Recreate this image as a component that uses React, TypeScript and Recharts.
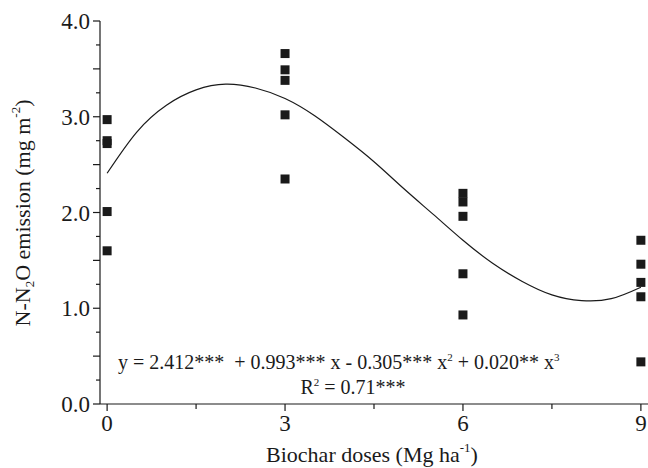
import { ComposedChart, Line, Scatter, XAxis, YAxis } from "recharts";

const doseTicks = [0, 1.5, 3, 4.5, 6, 7.5, 9];
const emissionTicks = [0, 0.25, 0.5, 0.75, 1, 1.25, 1.5, 1.75, 2, 2.25, 2.5, 2.75, 3, 3.25, 3.5, 3.75, 4];

// observed replicates (dose, emission)
const observed = [
	{ x: 0, y: 2.97 },
	{ x: 0, y: 2.75 },
	{ x: 0, y: 2.72 },
	{ x: 0, y: 2.01 },
	{ x: 0, y: 1.6 },
	{ x: 3, y: 3.66 },
	{ x: 3, y: 3.49 },
	{ x: 3, y: 3.38 },
	{ x: 3, y: 3.02 },
	{ x: 3, y: 2.35 },
	{ x: 6, y: 2.2 },
	{ x: 6, y: 2.11 },
	{ x: 6, y: 1.96 },
	{ x: 6, y: 1.36 },
	{ x: 6, y: 0.93 },
	{ x: 9, y: 1.71 },
	{ x: 9, y: 1.46 },
	{ x: 9, y: 1.27 },
	{ x: 9, y: 1.12 },
	{ x: 9, y: 0.44 },
];

// fitted curve
const curveX = [0, 0.5, 1, 1.5, 2, 2.5, 3, 3.5, 4, 4.5, 5, 5.5, 6, 6.5, 7, 7.5, 8, 8.5, 9];
const curveY = [2.41, 2.84, 3.12, 3.28, 3.34, 3.3, 3.19, 3.01, 2.78, 2.53, 2.25, 1.98, 1.71, 1.47, 1.28, 1.14, 1.08, 1.1, 1.22];
const curve = curveX.map((x, i) => ({ x, y: curveY[i] }));

const FONT = "'Liberation Serif', 'Times New Roman', Times, serif";
const INK = "#1a1a1a";

function DoseTick({ x, y, payload }: any) {
	const major = payload.value % 3 === 0;
	return (
		<g>
			<line x1={x} y1={y} x2={x} y2={y + (major ? 7 : 5)} stroke={INK} strokeWidth={1.2} />
			{major && (
				<text x={x} y={y + 27} textAnchor="middle" style={{ fontFamily: FONT, fontSize: 23 }} fill={INK}>
					{payload.value}
				</text>
			)}
		</g>
	);
}

function EmissionTick({ x, y, payload }: any) {
	const v = payload.value;
	const long = Math.abs(v * 2 - Math.round(v * 2)) < 1e-6;
	const labelled = Number.isInteger(v);
	return (
		<g>
			<line x1={x - (long ? 7 : 4)} y1={y} x2={x} y2={y} stroke={INK} strokeWidth={1.2} />
			{labelled && (
				<text x={x - 10} y={y + 8} textAnchor="end" style={{ fontFamily: FONT, fontSize: 23 }} fill={INK}>
					{v.toFixed(1)}
				</text>
			)}
		</g>
	);
}

function SquareMark({ cx, cy }: any) {
	return <rect x={cx - 4.5} y={cy - 4.5} width={9} height={9} fill={INK} />;
}

export default function App() {
	return (
		<div style={{ position: "absolute", left: 0, top: 0, width: 648, height: 468, background: "#fff" }}>
			<ComposedChart width={648} height={468} margin={{ top: 21, right: 0, bottom: 0, left: 0 }}>
				<XAxis
					type="number"
					dataKey="x"
					domain={[-0.12, 9.12]}
					ticks={doseTicks}
					tick={<DoseTick />}
					tickLine={false}
					tickSize={0}
					tickMargin={0}
					interval={0}
					axisLine={{ stroke: INK, strokeWidth: 1.2 }}
					height={64}
				/>
				<YAxis
					type="number"
					dataKey="y"
					domain={[0, 4]}
					ticks={emissionTicks}
					tick={<EmissionTick />}
					tickLine={false}
					tickSize={0}
					tickMargin={0}
					interval={0}
					axisLine={{ stroke: INK, strokeWidth: 1.2 }}
					width={100}
				/>
				<Line
					data={curve}
					dataKey="y"
					type="natural"
					stroke={INK}
					strokeWidth={1.2}
					dot={false}
					activeDot={false}
					isAnimationActive={false}
				/>
				<Scatter data={observed} dataKey="y" shape={<SquareMark />} isAnimationActive={false} />
			</ComposedChart>
			<svg
				width={648}
				height={468}
				style={{ position: "absolute", left: 0, top: 0, pointerEvents: "none", fontFamily: FONT }}
				fill={INK}
			>
				<text transform="translate(30 213) rotate(-90)" textAnchor="middle" fontSize={22}>
					N-N<tspan fontSize={13} dy={4}>2</tspan>
					<tspan dy={-4}>O emission (mg m</tspan>
					<tspan fontSize={13} dy={-10}>-2</tspan>
					<tspan dy={10}>)</tspan>
				</text>
				<text x={372} y={462} textAnchor="middle" fontSize={22}>
					Biochar doses (Mg ha<tspan fontSize={13} dy={-10}>-1</tspan>
					<tspan dy={10}>)</tspan>
				</text>
				<text x={118} y={369} fontSize={20}>
					y = 2.412***&#160; + 0.993*** x - 0.305*** x<tspan fontSize={11} dy={-8}>2</tspan>
					<tspan dy={8}> + 0.020** x</tspan>
					<tspan fontSize={11} dy={-8}>3</tspan>
				</text>
				<text x={353} y={394} textAnchor="middle" fontSize={20}>
					R<tspan fontSize={11} dy={-8}>2</tspan>
					<tspan dy={8}> = 0.71***</tspan>
				</text>
			</svg>
		</div>
	);
}
